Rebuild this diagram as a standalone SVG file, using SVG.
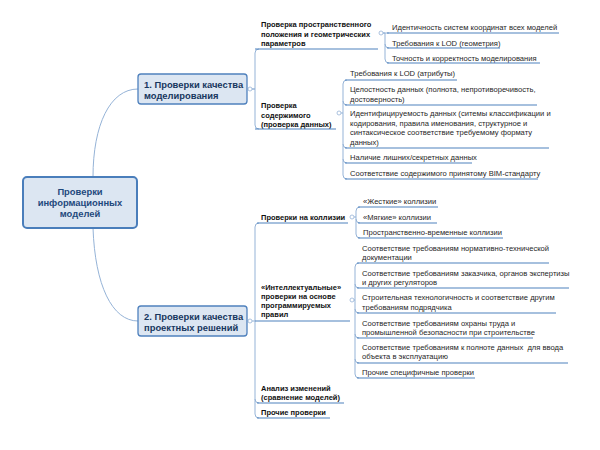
<svg xmlns="http://www.w3.org/2000/svg" width="600" height="450" viewBox="0 0 600 450">
<style>
.c{fill:none;stroke:#95b3d7;stroke-width:1}
.u{fill:none;stroke:#4f81bd;stroke-width:1.2}
.k{fill:#fff;stroke:#95b3d7;stroke-width:0.8}
.box{fill:#dce6f2;stroke:#4f81bd;stroke-width:1.3}
.rt{font-family:"Liberation Sans",Arial,sans-serif;font-weight:bold;font-size:9.4px;fill:#1f497d}
.nt{font-family:"Liberation Sans",Arial,sans-serif;font-weight:bold;font-size:9.4px;fill:#17375e}
.st{font-family:"Liberation Sans",Arial,sans-serif;font-weight:bold;font-size:7.5px;fill:#111}
.it{font-family:"Liberation Sans",Arial,sans-serif;font-size:7.6px;fill:#262626}
</style>
<rect width="600" height="450" fill="#fff"/>
<g id="connectors">
<path class="c" d="M93,177 C93,125 110,89 138,89"/>
<path class="c" d="M93,228 C95,285 112,321 138,321"/>
<path class="c" d="M252,89 H255 V53 Q255,49 259,49"/>
<path class="c" d="M252,89 H255 V125 Q255,129 259,129"/>
<path class="c" d="M383,33 H389"/>
<path class="c" d="M383,33 H385 V59 Q385,63 389,63"/>
<path class="c" d="M385,44 Q385,48 389,48"/>
<path class="c" d="M341,113 H343 V84 Q343,80 347,80"/>
<path class="c" d="M343,113 V175 Q343,179 347,179"/>
<path class="c" d="M343,101 Q343,105 347,105"/>
<path class="c" d="M343,144 Q343,148 347,148"/>
<path class="c" d="M343,159 Q343,163 347,163"/>
<path class="c" d="M252,321 H255 V227 Q255,223 259,223"/>
<path class="c" d="M255,321 V414 Q255,418 259,418"/>
<path class="c" d="M255,399 Q255,403 259,403"/>
<path class="c" d="M354,217 H356 V211 Q356,207 360,207"/>
<path class="c" d="M356,217 V234 Q356,238 360,238"/>
<path class="c" d="M356,219 Q356,223 360,223"/>
<path class="c" d="M354,300 H355 V267 Q355,263 359,263"/>
<path class="c" d="M355,300 V374 Q355,378 359,378"/>
<path class="c" d="M355,284 Q355,288 359,288"/>
<path class="c" d="M355,309 Q355,313 359,313"/>
<path class="c" d="M355,334 Q355,338 359,338"/>
<path class="c" d="M355,359 Q355,363 359,363"/>
<circle class="k" cx="250" cy="89" r="2"/>
<circle class="k" cx="250" cy="321" r="2"/>
<circle class="k" cx="381" cy="33" r="2"/>
<circle class="k" cx="339" cy="113" r="2"/>
<circle class="k" cx="352" cy="217" r="2"/>
<circle class="k" cx="352" cy="300" r="2"/>
</g>
<g id="root">
<rect x="23" y="177" width="114" height="51" rx="4" fill="#dce6f2" stroke="#4a7ebb" stroke-width="2"/>
<text class="rt" x="80" text-anchor="middle"><tspan x="80" y="195">Проверки</tspan><tspan x="80" y="206">информационных</tspan><tspan x="80" y="217">моделей</tspan></text>
</g>
<g id="node1">
<rect class="box" x="138" y="74" width="109" height="30" rx="3"/>
<text class="nt"><tspan x="144" y="88">1. Проверки качества</tspan><tspan x="144" y="99">моделирования</tspan></text>
</g>
<g id="node2">
<rect class="box" x="138" y="306" width="109" height="30" rx="3"/>
<text class="nt"><tspan x="144" y="320">2. Проверки качества</tspan><tspan x="144" y="331">проектных решений</tspan></text>
</g>
<g id="s1">
<text class="st"><tspan x="261" y="27">Проверка пространственного</tspan><tspan x="261" y="36.5">положения и геометрических</tspan><tspan x="261" y="46">параметров</tspan></text>
<path class="u" d="M255,49 H378"/>
</g>
<g id="s1i1"><text class="it" x="392" y="30">Идентичность систем координат всех моделей</text><path class="u" d="M387,33 H559"/></g>
<g id="s1i2"><text class="it" x="392" y="45.5">Требования к LOD (геометрия)</text><path class="u" d="M387,48 H500"/></g>
<g id="s1i3"><text class="it" x="392" y="60.5">Точность и корректность моделирования</text><path class="u" d="M387,63 H540"/></g>
<g id="s2">
<text class="st"><tspan x="261" y="108">Проверка</tspan><tspan x="261" y="117.5">содержимого</tspan><tspan x="261" y="127">(проверка данных)</tspan></text>
<path class="u" d="M255,129 H336"/>
</g>
<g id="s2i1"><text class="it" x="350" y="76">Требования к LOD (атрибуты)</text><path class="u" d="M345,80 H457"/></g>
<g id="s2i2"><text class="it"><tspan x="350" y="92">Целостность данных (полнота, непротиворечивость,</tspan><tspan x="350" y="101.5">достоверность)</tspan></text><path class="u" d="M345,105 H537"/></g>
<g id="s2i3"><text class="it"><tspan x="350" y="116">Идентифицируемость данных (ситемы классификации и</tspan><tspan x="350" y="125.5">кодирования, правила именования, структурное и</tspan><tspan x="350" y="135">синтаксическое соответствие требуемому формату</tspan><tspan x="350" y="144.5">данных)</tspan></text><path class="u" d="M345,148 H549"/></g>
<g id="s2i4"><text class="it" x="350" y="160">Наличие лишних/секретных данных</text><path class="u" d="M345,163 H472"/></g>
<g id="s2i5"><text class="it" x="350" y="176">Соответствие содержимого принятому BIM-стандарту</text><path class="u" d="M345,179 H538"/></g>
<g id="s3">
<text class="st" x="261" y="220">Проверки на коллизии</text>
<path class="u" d="M257,223 H348"/>
</g>
<g id="s3i1"><text class="it" x="363" y="204">«Жесткие» коллизии</text><path class="u" d="M358,207 H438"/></g>
<g id="s3i2"><text class="it" x="363" y="220">«Мягкие» коллизии</text><path class="u" d="M358,223 H437"/></g>
<g id="s3i3"><text class="it" x="363" y="235">Пространственно-временные коллизии</text><path class="u" d="M358,238 H503"/></g>
<g id="s4">
<text class="st"><tspan x="261" y="290">«Интеллектуальные»</tspan><tspan x="261" y="299">проверки на основе</tspan><tspan x="261" y="308">программируемых</tspan><tspan x="261" y="317">правил</tspan></text>
<path class="u" d="M255,321 H350"/>
</g>
<g id="s4i1"><text class="it"><tspan x="362" y="251">Соответствие требованиям нормативно-технической</tspan><tspan x="362" y="260">документации</tspan></text><path class="u" d="M357,263 H549"/></g>
<g id="s4i2"><text class="it"><tspan x="362" y="276">Соответствие требованиям заказчика, органов экспертизы</tspan><tspan x="362" y="285">и других регуляторов</tspan></text><path class="u" d="M357,288 H569"/></g>
<g id="s4i3"><text class="it"><tspan x="362" y="300">Строительная технологичность и соответствие другим</tspan><tspan x="362" y="309.5">требованиям подрядчика</tspan></text><path class="u" d="M357,313 H556"/></g>
<g id="s4i4"><text class="it"><tspan x="362" y="325.5">Соответствие требованиям охраны труда и</tspan><tspan x="362" y="334.5">промышленной безопасности при строительстве</tspan></text><path class="u" d="M357,338 H533"/></g>
<g id="s4i5"><text class="it"><tspan x="362" y="350">Соответствие требованиям к полноте данных&#160; для ввода</tspan><tspan x="362" y="359">объекта в эксплуатацию</tspan></text><path class="u" d="M357,363 H568"/></g>
<g id="s4i6"><text class="it" x="362" y="375">Прочие специфичные проверки</text><path class="u" d="M357,378 H475"/></g>
<g id="s5">
<text class="st"><tspan x="261" y="391">Анализ изменений</tspan><tspan x="261" y="400">(сравнение моделей)</tspan></text>
<path class="u" d="M257,403 H344"/>
</g>
<g id="s6">
<text class="st" x="261" y="415">Прочие проверки</text>
<path class="u" d="M257,418 H330"/>
</g>
</svg>
